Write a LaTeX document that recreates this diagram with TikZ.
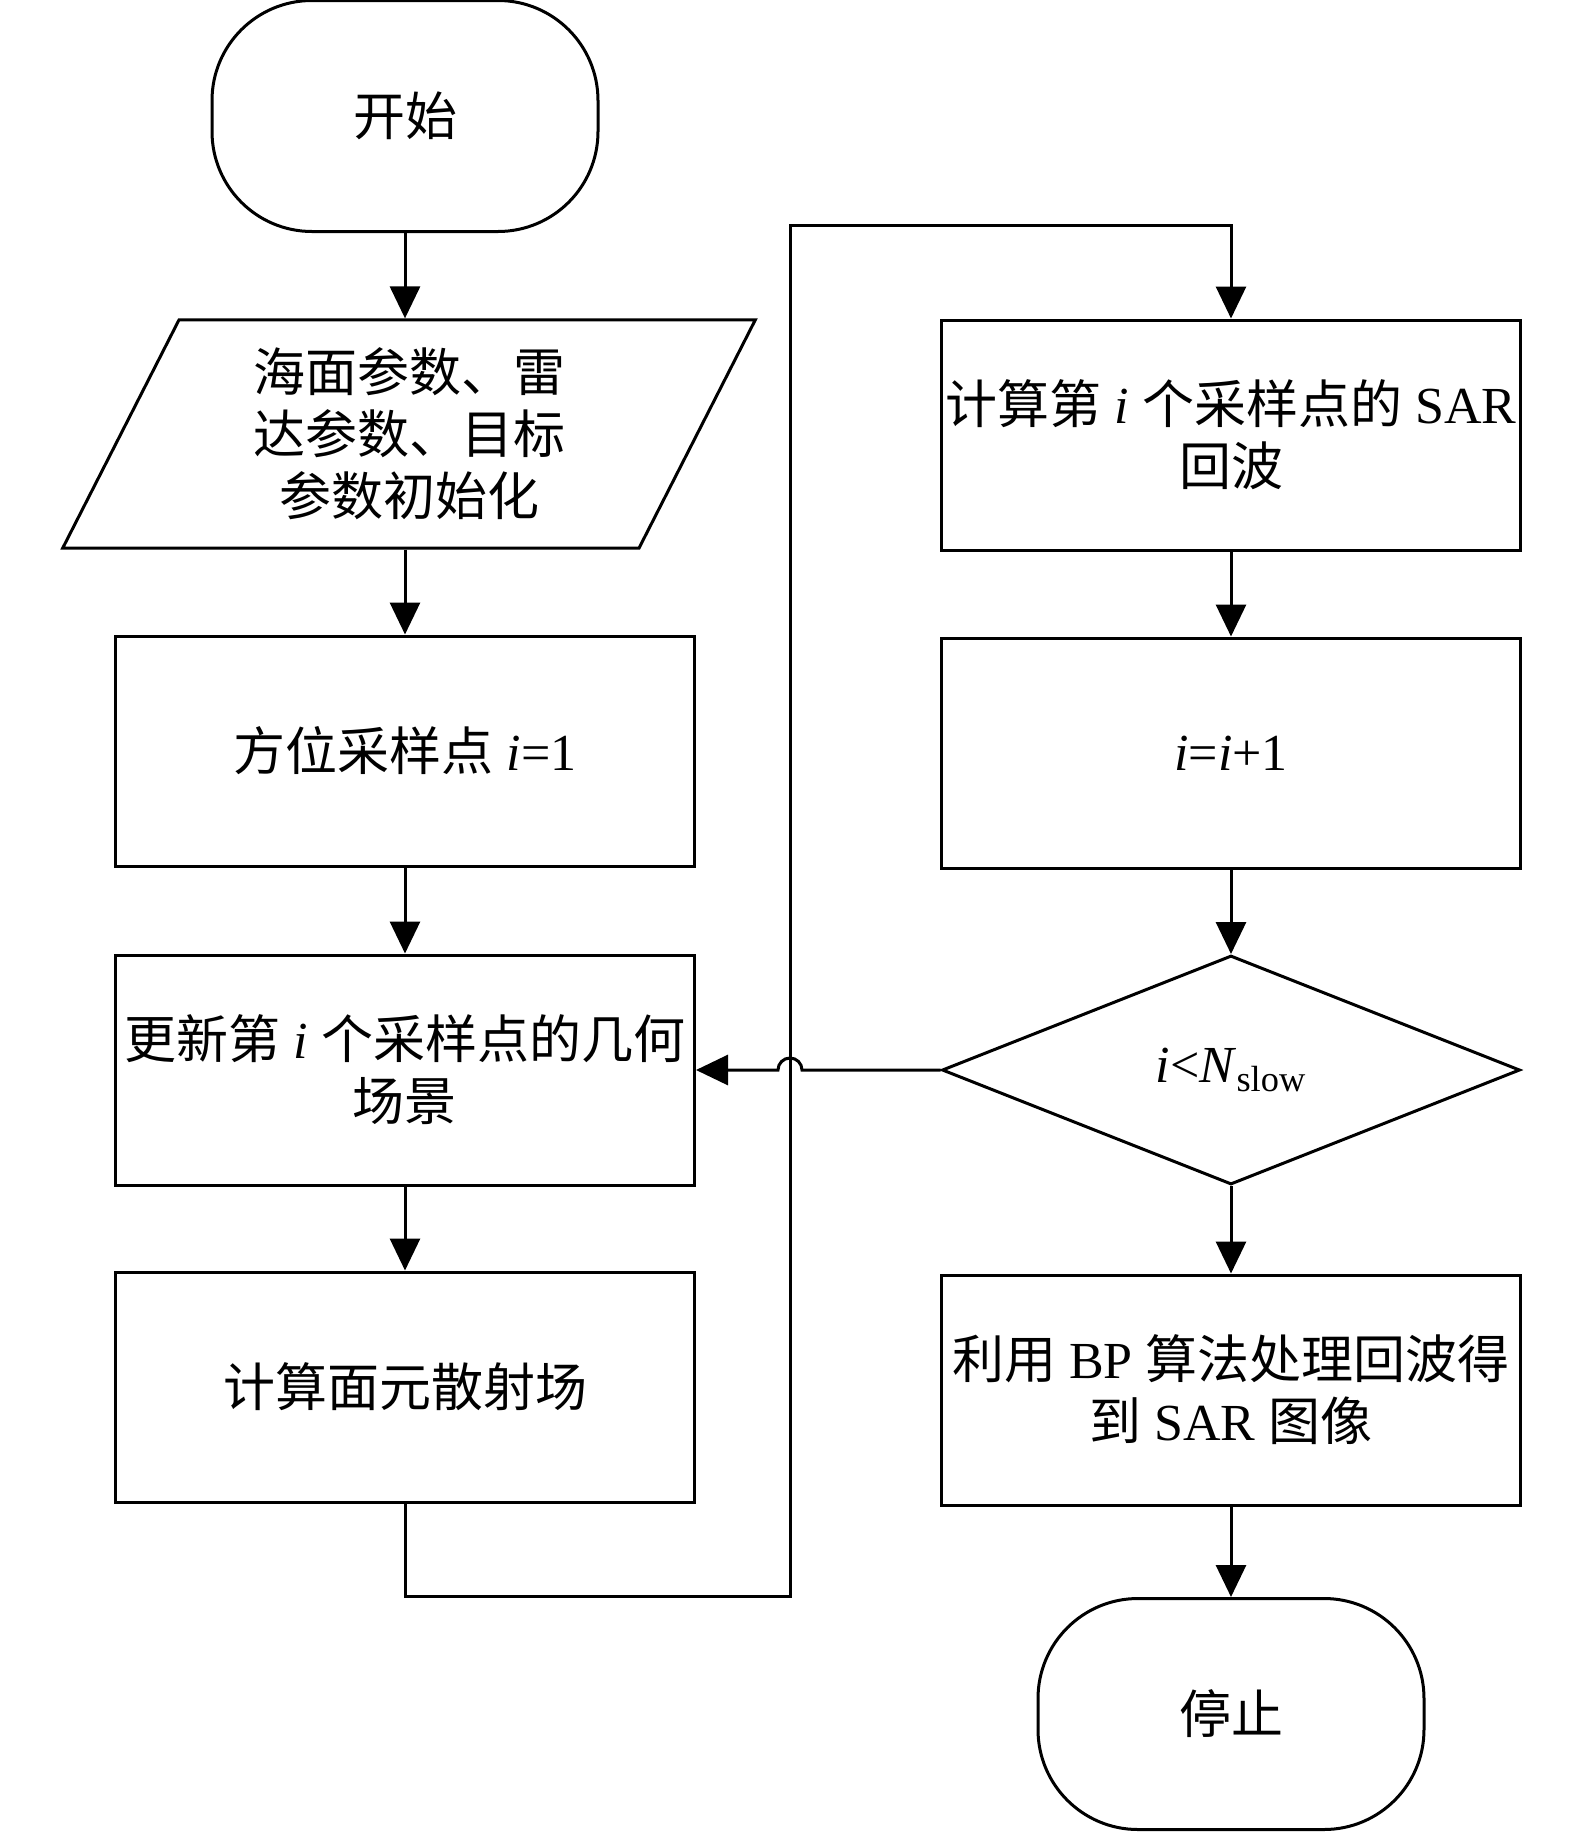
\documentclass[tikz,border=0pt]{standalone}
\usepackage{fontspec}
\setmainfont{Liberation Serif}
\newfontfamily\cjk{Noto Sans CJK SC}
\newcommand\zh[1]{{\cjk #1}}
\usepackage{tikz}
\usetikzlibrary{shapes.geometric,arrows.meta}
\tikzset{
    -{Triangle[length=16pt,width=15pt]},x=0.5pt,y=0.5pt,
    every node/.style={font=\fontsize{26}{31}\selectfont, align=center},
    box/.style ={rectangle, draw, minimum width=289.5pt, minimum height=115pt, inner sep=0pt},
    term/.style ={rectangle, rounded corners=50pt, draw, minimum width=193pt, minimum height=115.5pt, inner sep=0pt},
    io/.style ={trapezium, trapezium left angle=63, trapezium right angle=117, draw, text width=230pt, inner xsep=0pt, inner ysep=14pt},
    decision/.style ={diamond, draw, minimum width=289pt, minimum height=114.5pt, inner sep=0pt}
}

\begin{document}
\begin{tikzpicture}[line width=1.5pt]
      \useasboundingbox (0,0) rectangle (1575,-1832);
      % left column
      \node[term] (start) at (405,-116) {\zh{开始}};
      \node[io] (init) at (409,-434) {\zh{海面参数、雷}\\\zh{达参数、目标}\\\zh{参数初始化}};
      \node[box] (azim) at (405,-751) {\zh{方位采样点} \textit{i}=1};
      \node[box] (geom) at (405,-1070) {\zh{更新第} \textit{i} \zh{个采样点的几何}\\\zh{场景}};
      \node[box] (scat) at (405,-1387) {\zh{计算面元散射场}};
      % right column
      \node[box] (echo) at (1231,-435) {\zh{计算第} \textit{i} \zh{个采样点的} SAR\\\zh{回波}};
      \node[box] (incr) at (1231,-753) {\textit{i}=\textit{i}+1};
      \node[decision] (cond) at (1231,-1070) {\textit{i}<\textit{N}\textsubscript{slow}};
      \node[box] (bp) at (1231,-1390) {\zh{利用} BP \zh{算法处理回波得}\\\zh{到} SAR \zh{图像}};
      \node[term] (stop) at (1231,-1714) {\zh{停止}};

      \coordinate (loopA) at (405,-1596);
      \coordinate (loopB) at (790,-1596);
      \coordinate (loopC) at (790,-225);
      \coordinate (loopD) at (1231,-225);
      \coordinate (jump) at (802,-1070);

      \draw (start.south) -- (start.south |- init.north);
      \draw (init.south -| azim.north) -- (azim.north);
      \draw (azim) -- (geom);
      \draw (geom) -- (scat);
      \draw (scat.south) -- (loopA) -- (loopB) -- (loopC) -- (loopD) -- (echo.north);
      \draw (echo) -- (incr);
      \draw (incr) -- (cond);
      \draw (cond.west) -- (jump) arc[start angle=0, end angle=180, radius=6pt] -- (geom.east);
      \draw (cond) -- (bp);
      \draw (bp) -- (stop);
    \end{tikzpicture}
\end{document}
